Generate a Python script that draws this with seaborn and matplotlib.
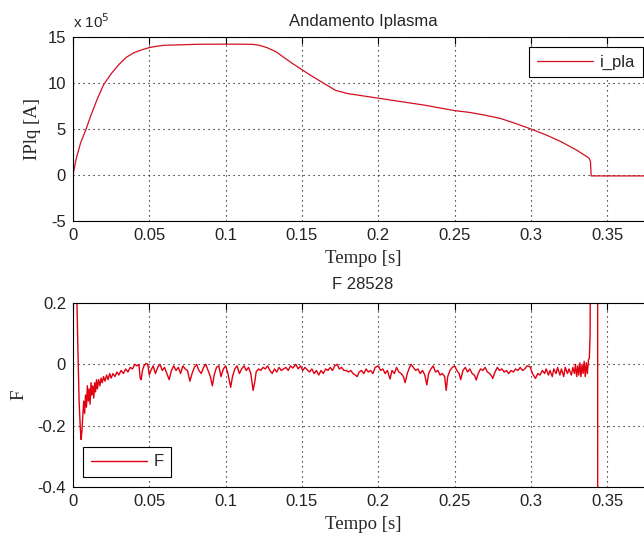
import matplotlib
matplotlib.use("Agg")
import matplotlib.pyplot as plt
import matplotlib.ticker as mticker
import numpy as np
import pandas as pd
import seaborn as sns

# Plasma current (units of 1e5 A) versus time
t_ip = [0.0, 0.002, 0.005, 0.0086, 0.012, 0.016, 0.02, 0.025, 0.03, 0.035,
        0.04, 0.045, 0.05, 0.055, 0.06, 0.07, 0.08, 0.09, 0.1, 0.11,
        0.118, 0.122, 0.127, 0.133, 0.138, 0.144, 0.15, 0.155, 0.16, 0.165,
        0.172, 0.18, 0.19, 0.2, 0.21, 0.22, 0.23, 0.24, 0.25, 0.26,
        0.27, 0.28, 0.29, 0.3, 0.31, 0.32, 0.33, 0.338, 0.339, 0.3395,
        0.345, 0.36, 0.38]
ip_1e5 = [0.0, 1.7, 3.5, 5.0, 6.6, 8.3, 9.8, 11.0, 12.0, 12.8,
          13.3, 13.6, 13.85, 14.0, 14.1, 14.15, 14.2, 14.22, 14.22, 14.22,
          14.2, 14.1, 13.85, 13.4, 12.8, 12.1, 11.45, 10.9, 10.4, 9.9,
          9.2, 8.85, 8.6, 8.35, 8.1, 7.85, 7.6, 7.3, 7.0, 6.8,
          6.5, 6.15, 5.6, 5.0, 4.35, 3.6, 2.7, 1.85, 1.5, -0.1,
          -0.1, -0.1, -0.1]

# F signal, shot 28528
t_f = [0.0, 0.0015, 0.0025, 0.0032, 0.0040, 0.0048, 0.0053, 0.0058, 0.0064, 0.0070,
       0.0076, 0.0082, 0.0088, 0.0094, 0.0100, 0.0106, 0.0112, 0.0118, 0.0124, 0.0130,
       0.0136, 0.0142, 0.0148, 0.0154, 0.0160, 0.0168, 0.0176, 0.0184, 0.0192, 0.0200,
       0.0210, 0.0220, 0.0230, 0.0240, 0.0250, 0.0262, 0.0275, 0.0288, 0.0300, 0.0315,
       0.0330, 0.0345, 0.0360, 0.0375, 0.0390, 0.0405, 0.0420, 0.0432, 0.0440, 0.0447,
       0.0455, 0.0465, 0.0478, 0.0490, 0.0500, 0.0510, 0.0525, 0.0540, 0.0555, 0.0570,
       0.0585, 0.0600, 0.0615, 0.0630, 0.0645, 0.0660, 0.0675, 0.0690, 0.0705, 0.0720,
       0.0735, 0.0750, 0.0766, 0.0780, 0.0795, 0.0810, 0.0825, 0.0840, 0.0855, 0.0870,
       0.0885, 0.0900, 0.0913, 0.0925, 0.0940, 0.0955, 0.0970, 0.0985, 0.1000, 0.1015,
       0.1033, 0.1045, 0.1060, 0.1075, 0.1090, 0.1105, 0.1120, 0.1135, 0.1150, 0.1165,
       0.1180, 0.1190, 0.1200, 0.1215, 0.1230, 0.1245, 0.1260, 0.1275, 0.1290, 0.1305,
       0.1320, 0.1335, 0.1350, 0.1365, 0.1380, 0.1395, 0.1410, 0.1425, 0.1440, 0.1460,
       0.1475, 0.1490, 0.1505, 0.1520, 0.1535, 0.1550, 0.1565, 0.1580, 0.1595, 0.1610,
       0.1625, 0.1640, 0.1655, 0.1670, 0.1685, 0.1700, 0.1715, 0.1730, 0.1745, 0.1760,
       0.1775, 0.1790, 0.1805, 0.1820, 0.1835, 0.1850, 0.1862, 0.1875, 0.1890, 0.1905,
       0.1920, 0.1935, 0.1950, 0.1965, 0.1980, 0.2000, 0.2015, 0.2030, 0.2045, 0.2060,
       0.2077, 0.2090, 0.2105, 0.2120, 0.2135, 0.2150, 0.2165, 0.2176, 0.2190, 0.2205,
       0.2215, 0.2230, 0.2245, 0.2260, 0.2275, 0.2290, 0.2305, 0.2318, 0.2330, 0.2345,
       0.2360, 0.2375, 0.2390, 0.2405, 0.2420, 0.2435, 0.2445, 0.2455, 0.2470, 0.2485,
       0.2500, 0.2515, 0.2530, 0.2540, 0.2555, 0.2570, 0.2585, 0.2600, 0.2615, 0.2630,
       0.2642, 0.2655, 0.2670, 0.2685, 0.2700, 0.2715, 0.2730, 0.2745, 0.2750, 0.2765,
       0.2780, 0.2795, 0.2810, 0.2825, 0.2840, 0.2855, 0.2870, 0.2885, 0.2900, 0.2915,
       0.2930, 0.2945, 0.2960, 0.2975, 0.2995, 0.3010, 0.3030, 0.3045, 0.3060, 0.3075,
       0.3090, 0.3100, 0.3115, 0.3125, 0.3140, 0.3150, 0.3165, 0.3175, 0.3190, 0.3200,
       0.3215, 0.3225, 0.3240, 0.3250, 0.3265, 0.3275, 0.3285, 0.3292, 0.3300, 0.3307,
       0.3314, 0.3321, 0.3328, 0.3335, 0.3342, 0.3349, 0.3356, 0.3363, 0.3370, 0.3377,
       0.3383, 0.3388, 0.3392, 0.3400, 0.3437, 0.3438, 0.3460]
f_val = [1.20, 0.60, 0.22, 0.05, -0.12, -0.21, -0.245, -0.22, -0.17, -0.12,
         -0.16, -0.10, -0.14, -0.07, -0.12, -0.08, -0.13, -0.06, -0.10, -0.07,
         -0.11, -0.06, -0.09, -0.05, -0.08, -0.05, -0.07, -0.045, -0.06, -0.04,
         -0.055, -0.035, -0.05, -0.03, -0.045, -0.03, -0.04, -0.025, -0.035, -0.02,
         -0.03, -0.015, -0.025, -0.01, -0.015, 0.0, -0.005, 0.0, -0.045, -0.05,
         -0.02, -0.005, 0.003, 0.0, -0.035, -0.02, -0.005, -0.03, -0.01, 0.0,
         -0.02, -0.01, -0.03, -0.05, -0.02, -0.005, -0.02, -0.01, -0.03, -0.005,
         -0.015, -0.02, -0.055, -0.03, -0.01, 0.0, -0.02, -0.03, -0.01, 0.0,
         -0.02, -0.04, -0.07, -0.035, -0.01, -0.005, -0.04, -0.015, -0.005, -0.03,
         -0.075, -0.04, -0.015, -0.005, -0.03, -0.015, -0.005, -0.02, -0.01, -0.03,
         -0.085, -0.06, -0.025, -0.015, -0.02, -0.01, -0.015, -0.005, -0.02, -0.03,
         -0.015, -0.025, -0.01, -0.02, -0.015, -0.01, -0.02, -0.005, -0.012, 0.0,
         -0.015, -0.005, -0.02, -0.01, -0.018, -0.025, -0.015, -0.03, -0.02, -0.035,
         -0.02, -0.03, -0.015, -0.02, -0.01, -0.02, -0.005, 0.0, -0.015, -0.01,
         -0.02, -0.02, -0.025, -0.02, -0.03, -0.035, -0.04, -0.025, -0.02, -0.03,
         -0.015, -0.025, -0.02, -0.03, -0.01, -0.005, -0.02, -0.015, -0.03, -0.02,
         -0.048, -0.02, -0.03, -0.01, -0.025, -0.03, -0.04, -0.06, -0.03, -0.01,
         0.0, -0.01, -0.02, -0.015, -0.03, -0.02, -0.035, -0.067, -0.03, -0.015,
         -0.005, -0.025, -0.02, -0.035, -0.03, -0.04, -0.085, -0.04, -0.02, -0.01,
         -0.005, -0.02, -0.03, -0.05, -0.02, -0.01, -0.025, -0.015, -0.03, -0.035,
         -0.051, -0.03, -0.015, -0.02, -0.01, -0.025, -0.03, -0.04, -0.046, -0.025,
         -0.01, -0.02, -0.015, -0.025, -0.02, -0.03, -0.02, -0.025, -0.015, -0.02,
         -0.01, -0.02, -0.015, -0.005, -0.008, -0.03, -0.046, -0.03, -0.035, -0.02,
         -0.03, -0.015, -0.035, -0.02, -0.04, -0.015, -0.03, -0.01, -0.035, -0.015,
         -0.04, -0.01, -0.03, -0.015, -0.035, -0.01, -0.03, 0.0, -0.04, -0.005,
         -0.035, 0.005, -0.04, 0.0, -0.03, 0.01, -0.04, 0.005, -0.03, 0.015,
         0.02, 0.10, 0.60, 2.0, 2.0, -2.0, -2.0]

x_ticks = [0, 0.05, 0.1, 0.15, 0.2, 0.25, 0.3, 0.35]
ip_ticks = [-5, 0, 5, 10, 15]
f_ticks = [-0.4, -0.2, 0, 0.2]

sns.set_style("white")
plt.rcParams["font.family"] = ["Liberation Sans", "DejaVu Sans"]
plt.rcParams["axes.linewidth"] = 0.8

RED_IP = "#d01020"
RED_F = "#e00010"
SERIF = ["Liberation Serif", "DejaVu Serif"]

fig = plt.figure(figsize=(6.44, 5.38), dpi=100)
fig.patch.set_facecolor("white")

ax1 = fig.add_axes([73 / 644, 1 - 221 / 538, 580 / 644, 184 / 538])
ax2 = fig.add_axes([73 / 644, 1 - 487 / 538, 580 / 644, 184 / 538])

df_ip = pd.DataFrame({"t": t_ip, "ip": ip_1e5})
df_f = pd.DataFrame({"t": t_f, "F": f_val})

sns.lineplot(data=df_ip, x="t", y="ip", ax=ax1, color=RED_IP, lw=0.9,
             estimator=None, sort=False, label="i_pla")
sns.lineplot(data=df_f, x="t", y="F", ax=ax2, color=RED_F, lw=1.0,
             estimator=None, sort=False, label="F")

fmt = mticker.FuncFormatter(lambda v, p: f"{v:g}")
for ax in (ax1, ax2):
    ax.set_xlim(0, 0.38)
    ax.set_xticks(x_ticks)
    ax.xaxis.set_major_formatter(fmt)
    ax.yaxis.set_major_formatter(fmt)
    ax.tick_params(direction="in", length=5, width=0.8, top=True, right=True,
                   labelsize=12, pad=5, colors="black")
    ax.tick_params(labelcolor="#222222")
    ax.grid(True, color="black", linestyle=(0, (1, 3.5)), linewidth=0.8)
    for s in ax.spines.values():
        s.set_color("black")
        s.set_linewidth(0.8)
    ax.set_xlabel("Tempo [s]", fontsize=13.5, family=SERIF, labelpad=5)

ax1.set_ylim(-5, 15)
ax1.set_yticks(ip_ticks)
ax1.set_ylabel("IPlq [A]", fontsize=13.5, family=SERIF, labelpad=5)
ax1.set_title("Andamento Iplasma", fontsize=12, pad=8)
fig.text(73 / 644, 1 - 28 / 538, r"x 10$^5$", fontsize=11, ha="left", va="baseline")

ax2.set_ylim(-0.4, 0.2)
ax2.set_yticks(f_ticks)
ax2.set_ylabel("F", fontsize=13.5, family=SERIF, labelpad=7)
ax2.set_title("F 28528", fontsize=12, pad=10)

leg_kw = dict(fancybox=False, framealpha=1, edgecolor="black", fontsize=12,
              handlelength=3.4, handletextpad=0.4, borderpad=0.45,
              borderaxespad=0.6)
l1 = ax1.legend(loc="upper right", **leg_kw)
l2 = ax2.legend(loc="lower left", **leg_kw)
for lg in (l1, l2):
    lg.get_frame().set_linewidth(0.8)

fig.savefig("out.png", dpi=100, facecolor="white")
